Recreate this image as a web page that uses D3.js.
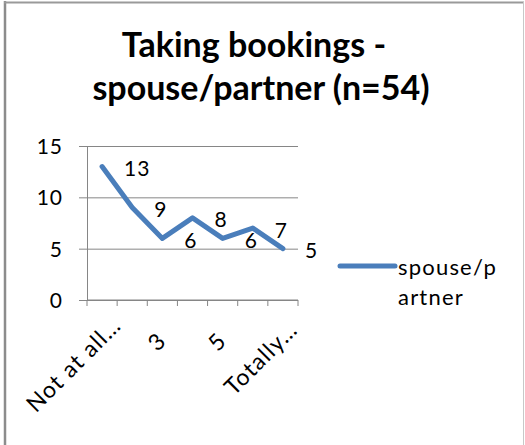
<!DOCTYPE html>
<html><head><meta charset="utf-8">
<script src="https://cdn.jsdelivr.net/npm/d3@7"></script>
<style>body{margin:0;background:#fff;overflow:hidden}</style>
</head><body>
<svg id="c" width="525" height="445"></svg>
<script>
const categories = ["Not at all\u2026", "2", "3", "4", "5", "6", "Totally\u2026"];
const shownTicks = ["Not at all\u2026", "3", "5", "Totally\u2026"];
const values = [13, 9, 6, 8, 6, 7, 5];
const yTicks = [0, 5, 10, 15];
const titleLines = ["Taking bookings -", "spouse/partner (n=54)"];
const legendLines = ["spouse/p", "artner"];

const FONT = "Lato, 'Open Sans', sans-serif";
const LINE_COLOR = "#4A7EBB";
const GRID_COLOR = "#868686";

const svg = d3.select("#c");
svg.append("rect").attr("width", 525).attr("height", 445).attr("fill", "#fff");

// outer frame
svg.append("line").attr("x1", 5).attr("x2", 5).attr("y1", 1).attr("y2", 445)
  .attr("stroke", "#8c8c8c").attr("stroke-width", 2.5);
svg.append("line").attr("x1", 4).attr("x2", 524).attr("y1", 2.5).attr("y2", 2.5)
  .attr("stroke", "#9a9a9a").attr("stroke-width", 2);
svg.append("line").attr("x1", 523.5).attr("x2", 523.5).attr("y1", 2).attr("y2", 445)
  .attr("stroke", "#c8c8c8").attr("stroke-width", 1);

// title
svg.append("text").attr("x", 254).attr("y", 57).attr("text-anchor", "middle")
  .attr("font-family", FONT).attr("font-weight", "bold").attr("font-size", 34)
  .text(titleLines[0]);
svg.append("text").attr("x", 261).attr("y", 100).attr("text-anchor", "middle")
  .attr("font-family", FONT).attr("font-weight", "bold").attr("font-size", 34)
  .text(titleLines[1]);

const x = d3.scaleBand().domain(categories).range([87, 298]).padding(0);
const y = d3.scaleLinear().domain([0, 15]).range([300, 146]);
const plotW = x.range()[1] - x.range()[0];

// gridlines
const grid = svg.append("g").attr("transform", `translate(${x.range()[0]},0)`)
  .call(d3.axisLeft(y).tickValues(yTicks).tickSize(-plotW).tickFormat(""));
grid.select(".domain").remove();
grid.selectAll("line").attr("stroke", GRID_COLOR).attr("stroke-width", 1);

// y axis
const ya = svg.append("g").attr("transform", `translate(${x.range()[0]},0)`)
  .call(d3.axisLeft(y).tickValues(yTicks).tickSize(8).tickSizeOuter(0).tickPadding(16));
ya.select(".domain").attr("stroke", GRID_COLOR);
ya.selectAll(".tick line").attr("stroke", GRID_COLOR);
ya.selectAll(".tick text").attr("font-family", FONT).attr("font-size", 21)
  .attr("letter-spacing", 1).attr("fill", "#000").attr("dy", "0.36em");

// x axis line + ticks between categories
const boundaries = categories.map(c => x(c)).concat([x.range()[1]]);
svg.append("line").attr("x1", x.range()[0]).attr("x2", x.range()[1])
  .attr("y1", y(0)).attr("y2", y(0)).attr("stroke", GRID_COLOR);
svg.append("g").selectAll("line").data(boundaries).join("line")
  .attr("x1", d => d).attr("x2", d => d).attr("y1", y(0)).attr("y2", y(0) + 6)
  .attr("stroke", GRID_COLOR);

// x labels (rotated)
const xl = svg.append("g").selectAll("text").data(shownTicks).join("text")
  .attr("font-family", FONT).attr("font-size", 23).attr("letter-spacing", 1.2)
  .attr("text-anchor", "end").text(d => d);
xl.each(function(d) {
  const w = this.getComputedTextLength();
  const cx = x(d) + x.bandwidth() / 2;
  const s = 0.14 * (w - 12);
  d3.select(this).attr("transform",
    `translate(${cx + 5 + s},${y(0) + 42.5 - s}) rotate(-45)`);
});

// line
const cx = (d, i) => x(categories[i]) + x.bandwidth() / 2;
svg.append("path").datum(values)
  .attr("d", d3.line().x(cx).y(d => y(d)))
  .attr("fill", "none").attr("stroke", LINE_COLOR).attr("stroke-width", 5)
  .attr("stroke-linejoin", "round").attr("stroke-linecap", "round");

// data labels
svg.append("g").selectAll("text").data(values).join("text")
  .attr("x", (d, i) => cx(d, i) + 22).attr("y", d => y(d) + 2).attr("dy", "0.36em")
  .attr("font-family", FONT).attr("font-size", 21).attr("letter-spacing", 1)
  .text(d => d);

// legend
svg.append("line").attr("x1", 340).attr("x2", 395).attr("y1", 266).attr("y2", 266)
  .attr("stroke", LINE_COLOR).attr("stroke-width", 5).attr("stroke-linecap", "round");
svg.append("g").selectAll("text").data(legendLines).join("text")
  .attr("x", 398).attr("y", (d, i) => 275 + i * 30)
  .attr("font-family", FONT).attr("font-size", 22).attr("letter-spacing", 1.2)
  .text(d => d);
</script>
</body></html>
